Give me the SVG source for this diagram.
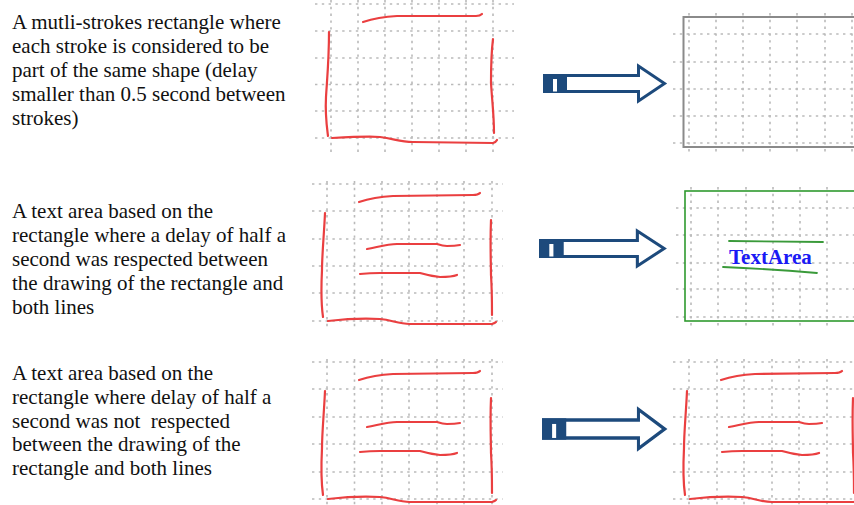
<svg xmlns="http://www.w3.org/2000/svg" xmlns:xlink="http://www.w3.org/1999/xlink" width="854" height="505" viewBox="0 0 854 505">
<style>
.txt{font-family:"Liberation Serif","Times New Roman",serif;font-size:21px;fill:#111}
.gd{fill:none;stroke:#bababa;stroke-width:1.6;stroke-dasharray:2.4 4.4}
.ink{fill:none;stroke:#ea3f40;stroke-width:2.2;stroke-linecap:round;stroke-linejoin:round}
.arw{fill:#fff;stroke:#1d4a7c;stroke-width:3;stroke-linejoin:miter}
.navy{fill:#1d4a7c}
.tarea{font-family:"Liberation Serif","Times New Roman",serif;font-size:21px;font-weight:bold;fill:#1a1af5}
.gl{fill:none;stroke:#3a9a3a;stroke-width:1.8;stroke-linecap:round}
</style>
<defs>
<g id="arrow">
<path class="arw" d="M1.5,-8 H95.5 V-17.5 L121.5,0 L95.5,17.5 V8 H1.5 Z"/>
<rect class="navy" x="0" y="-9.5" width="24" height="19"/>
<rect x="10" y="-4.5" width="4" height="12.5" fill="#fff"/>
</g>
<g id="sketch">
<path class="ink" d="M359,202 Q374,197 393,196 L473,195 Q478,195 480,193"/>
<path class="ink" d="M325,213 C324,235 322,255 322,270 C321,290 322,310 323,317"/>
<path class="ink" d="M328,321 C345,319 365,318 380,319 C392,320 398,324 410,324 L492,324 Q495,323 496,322"/>
<path class="ink" d="M491,220 C490,245 491,265 491,275 C492,290 492,305 492,315"/>
<path class="ink" d="M367,249 C378,247 387,244 397,244 L437,244 Q443,246 447,246 Q455,246 460,245"/>
<path class="ink" d="M360,274 C370,273 375,273 380,273 L420,273 Q430,276 440,277 Q452,277 457,275"/>
</g>
</defs>

<g id="text1">
<text class="txt" x="12" y="29">A mutli-strokes rectangle where</text>
<text class="txt" x="12" y="53">each stroke is considered to be</text>
<text class="txt" x="12" y="77">part of the same shape (delay</text>
<text class="txt" x="12" y="101">smaller than 0.5 second between</text>
<text class="txt" x="12" y="125">strokes)</text>
</g>

<g id="sketch1">
<path class="gd" d="M331,0V153M358,0V153M385,0V153M412,0V153M439,0V153M466,0V153M493,0V153"/>
<path class="gd" d="M315,4H514M315,31H514M315,58H514M315,84.5H514M315,111H514M315,138H514"/>
<path class="ink" d="M363,22 Q378,17 397,16 L476,16 Q480,16 482,14"/>
<path class="ink" d="M329,32 C329,60 327,80 326,97 C325,115 327,128 328,136"/>
<path class="ink" d="M332,138 C350,137 370,136 380,137 C395,139 400,142 413,142 L493,143 Q496,142 497,140"/>
<path class="ink" d="M493,39 C491,55 491,70 491,83 C492,100 494,115 494,133"/>
</g>

<g id="result1">
<path class="gd" d="M689,13V153M716,13V153M743,13V153M770,13V153M797,13V153M825,13V153M852,13V153"/>
<path class="gd" d="M673,34H854M673,62H854M673,89H854M673,116H854M673,143H854"/>
<rect x="683.5" y="17" width="190" height="130" fill="none" stroke="#8a8a8a" stroke-width="2"/>
</g>

<g id="text2">
<text class="txt" x="12" y="218">A text area based on the</text>
<text class="txt" x="12" y="242">rectangle where a delay of half a</text>
<text class="txt" x="12" y="266">second was respected between</text>
<text class="txt" x="12" y="290">the drawing of the rectangle and</text>
<text class="txt" x="12" y="314">both lines</text>
</g>

<g id="sketch2">
<path class="gd" d="M327,181V327M354.5,181V327M382,181V327M409,181V327M437,181V327M464,181V327M492,181V327"/>
<path class="gd" d="M312,184H503M312,211H503M312,239H503M312,266H503M312,293H503M312,321H503"/>
<use xlink:href="#sketch"/>
</g>

<g id="result2">
<path class="gd" d="M691,187V326M718,187V326M746,187V326M773,187V326M800,187V326M827,187V326"/>
<path class="gd" d="M676,208H854M676,235H854M676,263H854M676,289H854M676,317H854"/>
<rect x="685" y="191" width="190" height="130" fill="none" stroke="#2f9a2f" stroke-width="1.6"/>
<path class="gl" d="M729,241 L823,242"/>
<text class="tarea" x="729" y="264">TextArea</text>
<path class="gl" d="M723,267 Q770,269 817,273"/>
</g>

<g id="text3">
<text class="txt" x="12" y="380">A text area based on the</text>
<text class="txt" x="12" y="404">rectangle where delay of half a</text>
<text class="txt" x="12" y="428" style="white-space:pre">second was not  respected</text>
<text class="txt" x="12" y="451">between the drawing of the</text>
<text class="txt" x="12" y="475">rectangle and both lines</text>
</g>

<g id="sketch3">
<path class="gd" d="M327,359V505M354.5,359V505M382,359V505M409,359V505M437,359V505M464,359V505M492,359V505"/>
<path class="gd" d="M312,362H503M312,389H503M312,417H503M312,444H503M312,472H503M312,499H503"/>
<use xlink:href="#sketch" transform="translate(0,178)"/>
</g>

<g id="result3">
<path class="gd" d="M689,359V505M717,359V505M744,359V505M772,359V505M799,359V505M827,359V505"/>
<path class="gd" d="M673,362H854M673,389H854M673,417H854M673,444H854M673,472H854M673,499H854"/>
<use xlink:href="#sketch" transform="translate(362,178)"/>
</g>

<g id="connectors">
<use xlink:href="#arrow" transform="translate(543,83.5)"/>
<use xlink:href="#arrow" transform="translate(539,248.5) scale(1.03,1)"/>
<use xlink:href="#arrow" transform="translate(542,429) scale(1.01,1.12)"/>
</g>
</svg>
